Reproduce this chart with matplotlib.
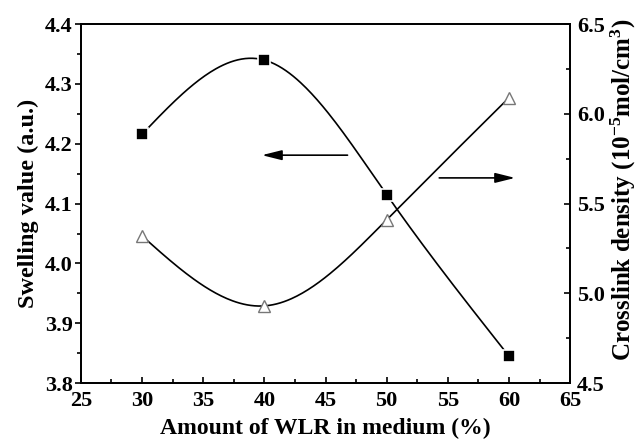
import numpy as np
import matplotlib
matplotlib.use("Agg")
import matplotlib.pyplot as plt

# data
wlr = [30, 40, 50, 60]
swelling = [4.216, 4.340, 4.115, 3.845]
crosslink = [5.32, 4.93, 5.41, 6.09]

plt.rcParams['font.family'] = ['Liberation Serif', 'DejaVu Serif']
plt.rcParams['font.weight'] = 'bold'
plt.rcParams['mathtext.fontset'] = 'custom'
plt.rcParams['mathtext.rm'] = 'Liberation Serif:bold'
plt.rcParams['mathtext.default'] = 'rm'


def spline(x, y, n=200):
    # natural cubic spline through the points (like Origin's spline connector)
    x = np.asarray(x, float)
    y = np.asarray(y, float)
    k = len(x)
    h = np.diff(x)
    A = np.zeros((k, k))
    b = np.zeros(k)
    A[0, 0] = A[-1, -1] = 1
    for i in range(1, k - 1):
        A[i, i - 1] = h[i - 1]
        A[i, i] = 2 * (h[i - 1] + h[i])
        A[i, i + 1] = h[i]
        b[i] = 6 * ((y[i + 1] - y[i]) / h[i] - (y[i] - y[i - 1]) / h[i - 1])
    m = np.linalg.solve(A, b)
    xs = np.linspace(x[0], x[-1], n)
    j = np.clip(np.searchsorted(x, xs) - 1, 0, k - 2)
    t = xs - x[j]
    hj = h[j]
    ys = (m[j] * (x[j + 1] - xs) ** 3 / (6 * hj) + m[j + 1] * t ** 3 / (6 * hj)
          + (y[j] / hj - m[j] * hj / 6) * (x[j + 1] - xs)
          + (y[j + 1] / hj - m[j + 1] * hj / 6) * t)
    return xs, ys


fig = plt.figure(figsize=(6.37, 4.48), dpi=100)
ax = fig.add_axes([0.127, 0.145, 0.768, 0.801])
ax2 = ax.twinx()

xs, ys = spline(wlr, swelling)
ax.plot(xs, ys, color='black', lw=1.2, zorder=2)
ax.plot(wlr, swelling, 's', color='black', ms=8, mec='white', mew=1.2, zorder=3)

xs, ys = spline(wlr, crosslink)
ax2.plot(xs, ys, color='black', lw=1.2, zorder=2)
ax2.plot(wlr, crosslink, '^', mfc='white', mec='#777777', ms=9, mew=1.0, zorder=3)

ax.set_xlim(25, 65)
ax.set_ylim(3.8, 4.4)
ax2.set_ylim(4.5, 6.5)
ax.set_xticks(np.arange(25, 66, 5))
ax.set_xticks(np.arange(27.5, 65, 5), minor=True)
ax.set_yticks(np.arange(3.8, 4.41, 0.1))
ax.set_yticks(np.arange(3.85, 4.4, 0.1), minor=True)
ax2.set_yticks(np.arange(4.5, 6.51, 0.5))
ax2.set_yticks(np.arange(4.75, 6.5, 0.5), minor=True)
ax.yaxis.set_major_formatter(matplotlib.ticker.FormatStrFormatter('%.1f'))
ax2.yaxis.set_major_formatter(matplotlib.ticker.FormatStrFormatter('%.1f'))

ax.tick_params(axis='x', which='both', direction='in', top=False, labelsize=16, width=1.2, pad=6)
ax.tick_params(axis='x', which='major', length=4)
ax.tick_params(axis='x', which='minor', length=3)
ax.tick_params(axis='y', which='both', direction='out', labelsize=16, width=1.2, pad=2)
ax.tick_params(axis='y', which='major', length=4)
ax.tick_params(axis='y', which='minor', length=3)
ax2.tick_params(axis='y', which='both', direction='in', labelsize=16, width=1.2, pad=5)
ax2.tick_params(axis='y', which='major', length=4)
ax2.tick_params(axis='y', which='minor', length=3)
for a in (ax, ax2):
    for s in a.spines.values():
        s.set_linewidth(1.3)

ax.set_xlabel('Amount of WLR in medium (%)', fontsize=17, fontweight='bold', labelpad=5)
ax.set_ylabel('Swelling value (a.u.)', fontsize=17.5, fontweight='bold', labelpad=4)
ax2.set_ylabel('Crosslink density (10$^{-5}$mol/cm$^{3}$)', fontsize=18, fontweight='bold')
ax2.yaxis.set_label_coords(1.08, 0.54)

# direction arrows
arrow = dict(arrowstyle='-|>,head_length=1.0,head_width=0.25', color='black', lw=1.2,
             mutation_scale=12, shrinkA=0, shrinkB=0)
ax.annotate('', xy=(39.8, 4.181), xytext=(46.8, 4.181), arrowprops=arrow)
ax.annotate('', xy=(60.5, 4.143), xytext=(54.3, 4.143), arrowprops=arrow)

fig.savefig('out.png', dpi=100)
